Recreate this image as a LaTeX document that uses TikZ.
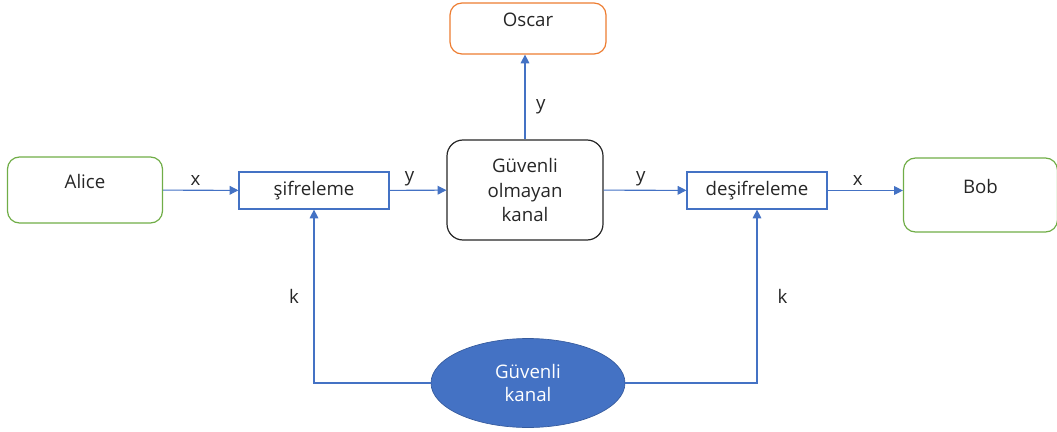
\documentclass[tikz,border=0pt]{standalone}
\usepackage{fontspec}
\setmainfont{Open Sans}
\usepackage{xcolor}
\definecolor{colBlue}{HTML}{4472C4}
\definecolor{colGreen}{HTML}{70AD47}
\definecolor{colOrange}{HTML}{ED7D31}
\definecolor{colText}{HTML}{262626}
\usepackage{tikz}
\usetikzlibrary{arrows.meta, positioning, shapes.geometric}

\tikzset{
    party/.style={draw, rounded corners=9pt, line width=0.9pt, text=colText,
        font=\fontsize{14}{18.4}\selectfont, text depth=13pt},
    cryptbox/.style={draw=colBlue, line width=0.9pt, text=colText,
        font=\fontsize{14}{18.4}\selectfont, minimum height=27.75pt},
    channel/.style={draw=colText, rounded corners=12pt, line width=0.9pt, text=colText,
        font=\fontsize{14}{18.4}\selectfont, align=center, minimum width=117pt, minimum height=75pt},
    flow/.style={colBlue, line width=0.8pt, -{Triangle[length=6.5pt,width=6.5pt]}},
    lbl/.style={text=colText, font=\fontsize{14}{18.4}\selectfont, inner sep=1pt}
}

\begin{document}
\begin{tikzpicture}[x=0.75pt, y=-0.75pt]
        \useasboundingbox (0,0) rectangle (1057,432);
        % Taraflar
        \node[party, draw=colGreen, minimum width=116.25pt, minimum height=49.5pt] (alice) at (85,190) {Alice};
        \node[party, draw=colGreen, minimum width=115.5pt, minimum height=55.5pt] (bob) at (980.5,195) {Bob};
        \node[party, draw=colOrange, minimum width=117pt, minimum height=38.25pt] (oscar) at (528,28.5) {Oscar};
        % Sifreleme kutulari
        \node[cryptbox, minimum width=112.5pt] (sifre) at (314,190.5) {şifreleme};
        \node[cryptbox, minimum width=105pt] (desif) at (757,190.5) {deşifreleme};
        % Kanallar
        \node[channel] (kanal) at (525,190) {Güvenli\\olmayan\\kanal};
        \node[ellipse, fill=colBlue, draw=colBlue!80!black, line width=0.5pt, text=white,
            font=\fontsize{14}{17.3}\selectfont, align=center,
            minimum width=145.5pt, minimum height=66.75pt, inner sep=0pt] (guvenli) at (528,383) {Güvenli\\kanal};
        % Oklar
        \draw[flow] (alice) -- node[lbl, pos=.43, above=2pt] {x} (sifre);
        \draw[flow] (sifre) -- node[lbl, pos=.35, above=2pt] {y} (kanal);
        \draw[flow] (kanal) -- node[lbl, pos=.45, above=2pt] {y} (desif);
        \draw[flow] (desif.east) -- node[lbl, pos=.4, above=2pt] {x} (desif.east -| bob.west);
        \draw[flow] (kanal.north) -- node[lbl, pos=.38, right=7pt] {y} (kanal.north |- oscar.south);
        \draw[flow] (guvenli.west) -| node[lbl, pos=.75, left=10pt] {k} (sifre.south);
        \draw[flow] (guvenli.east) -| node[lbl, pos=.75, right=14pt] {k} (desif.south);
    \end{tikzpicture}
\end{document}
